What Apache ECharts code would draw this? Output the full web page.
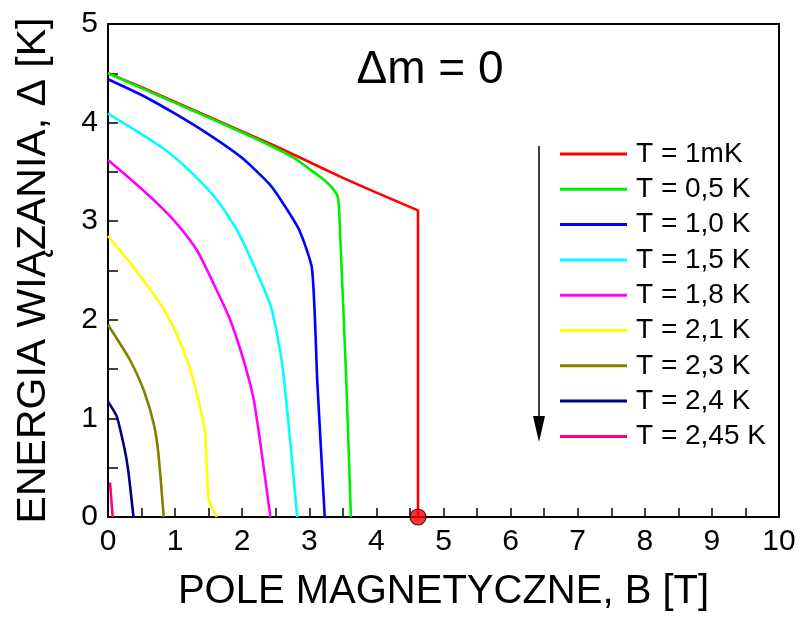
<!DOCTYPE html>
<html>
<head>
<meta charset="utf-8">
<script src="https://cdn.jsdelivr.net/npm/echarts@6/dist/echarts.min.js"></script>
<style>
html,body{margin:0;padding:0;background:#fff;}
#c{width:801px;height:619px;}
</style>
</head>
<body>
<div id="c"></div>
<script>
// ---- data ----
const seriesNames = ['T = 1mK','T = 0,5 K','T = 1,0 K','T = 1,5 K','T = 1,8 K','T = 2,1 K','T = 2,3 K','T = 2,4 K','T = 2,45 K'];
const seriesColors = ['#ff0000','#00ee00','#0000ff','#00ffff','#ff00ff','#ffff00','#808000','#000080','#ff0080'];

const x_1mK  = [0, 0.5, 1, 1.5, 2, 2.5, 3, 3.5, 4, 4.62, 4.62];
const y_1mK  = [4.50, 4.36, 4.21, 4.06, 3.91, 3.76, 3.60, 3.44, 3.29, 3.11, 0];
const x_05K  = [0, 0.5, 1, 1.5, 2, 2.5, 2.8, 3.0, 3.2, 3.35, 3.43, 3.47, 3.55, 3.62];
const y_05K  = [4.50, 4.35, 4.20, 4.05, 3.90, 3.74, 3.63, 3.53, 3.43, 3.33, 3.23, 2.70, 1.40, 0];
const x_10K  = [0, 0.5, 1.0, 1.5, 2.0, 2.4, 2.62, 2.85, 3.04, 3.12, 3.23];
const y_10K  = [4.44, 4.28, 4.09, 3.88, 3.64, 3.38, 3.17, 2.91, 2.52, 1.36, 0];
const x_15K  = [0, 0.48, 0.88, 1.28, 1.63, 1.93, 2.14, 2.43, 2.60, 2.82];
const y_15K  = [4.09, 3.89, 3.71, 3.47, 3.21, 2.90, 2.60, 2.13, 1.53, 0];
const x_18K  = [0, 0.43, 0.75, 1.03, 1.33, 1.62, 1.82, 2.02, 2.18, 2.42];
const y_18K  = [3.62, 3.37, 3.17, 2.97, 2.70, 2.30, 2.00, 1.59, 1.16, 0];
const x_21K  = [0, 0.18, 0.33, 0.55, 0.78, 1.02, 1.23, 1.44, 1.50, 1.62];
const y_21K  = [2.85, 2.70, 2.58, 2.38, 2.16, 1.86, 1.49, 0.89, 0.18, 0];
const x_23K  = [0, 0.15, 0.33, 0.53, 0.68, 0.75, 0.83];
const y_23K  = [1.95, 1.79, 1.59, 1.29, 0.95, 0.65, 0];
const x_24K  = [0, 0.13, 0.25, 0.30, 0.38];
const y_24K  = [1.17, 1.02, 0.68, 0.48, 0];
const x_245K = [0.03, 0.07];
const y_245K = [0.35, 0];

const criticalPointX = [4.62];
const criticalPointY = [0];

const xTicks = [0,1,2,3,4,5,6,7,8,9,10];
const yTicks = [0,1,2,3,4,5];

const titleText = 'Δm = 0';
const xTitle = 'POLE MAGNETYCZNE, B [T]';
const yTitle = 'ENERGIA WIĄZANIA, Δ [K]';

// ---- build ----
const allX = [x_1mK,x_05K,x_10K,x_15K,x_18K,x_21K,x_23K,x_24K,x_245K];
const allY = [y_1mK,y_05K,y_10K,y_15K,y_18K,y_21K,y_23K,y_24K,y_245K];
const zip = (a,b) => a.map((v,i)=>[v,b[i]]);

const FONT = '"Liberation Sans", Arial, sans-serif';

const series = seriesNames.map((n,i)=>({
  name: n,
  type: 'line',
  data: zip(allX[i], allY[i]),
  showSymbol: false,
  symbol: 'none',
  smooth: i === 0 ? false : 0.2,
  lineStyle: {color: seriesColors[i], width: 2.6},
  itemStyle: {color: seriesColors[i]},
  z: 2 + i
}));
series.push({
  type: 'scatter',
  data: zip(criticalPointX, criticalPointY),
  symbolSize: 16,
  itemStyle: {color: '#ff0000', borderColor: '#000', borderWidth: 1.2},
  clip: false,
  z: 20
});

const G = {left:108, top:24, width:671, height:493};

const option = {
  animation: false,
  backgroundColor: '#fff',
  textStyle: {fontFamily: FONT},
  grid: {left:G.left, top:G.top, width:G.width, height:G.height, containLabel:false},
  title: {
    text: titleText, left: 425, top: 42, textAlign: 'center',
    textStyle: {fontFamily: FONT, fontSize: 46, fontWeight: 'normal', color: '#000'}
  },
  legend: {
    data: seriesNames,
    orient: 'vertical',
    left: 560, top: 140,
    icon: 'rect',
    itemWidth: 67, itemHeight: 3,
    itemGap: 7.3,
    textStyle: {fontFamily: FONT, fontSize: 28, color: '#000', lineHeight: 28, padding: [0,0,0,4]},
    padding: 0,
    selectedMode: false
  },
  xAxis: [{
    type: 'value', min: 0, max: 10, interval: 1,
    position: 'bottom',
    name: xTitle, nameLocation: 'middle', nameGap: 55,
    nameTextStyle: {fontFamily: FONT, fontSize: 40, color: '#000'},
    axisLine: {show: true, onZero: false, lineStyle: {color: '#000', width: 2}},
    axisTick: {show: true, inside: true, length: 9, lineStyle: {color: '#000', width: 1.5}},
    minorTick: {show: true, splitNumber: 2, length: 9, lineStyle: {color: '#000', width: 1.5}},
    axisLabel: {fontFamily: FONT, fontSize: 30, color: '#000', margin: 10,
      formatter: v => xTicks.includes(v) ? String(v) : ''},
    splitLine: {show: false}
  },{
    type: 'value', min: 0, max: 10, position: 'top',
    axisLine: {show: true, onZero: false, lineStyle: {color: '#000', width: 2}},
    axisTick: {show: false}, axisLabel: {show: false}, splitLine: {show: false}
  }],
  yAxis: [{
    type: 'value', min: 0, max: 5, interval: 1,
    position: 'left',
    name: yTitle, nameLocation: 'middle', nameGap: 54, nameRotate: 90,
    nameTextStyle: {fontFamily: FONT, fontSize: 41, color: '#000'},
    axisLine: {show: true, onZero: false, lineStyle: {color: '#000', width: 2}},
    axisTick: {show: true, inside: true, length: 10, lineStyle: {color: '#000', width: 1.5}},
    minorTick: {show: true, splitNumber: 2, length: 10, lineStyle: {color: '#000', width: 1.5}},
    axisLabel: {fontFamily: FONT, fontSize: 30, color: '#000', margin: 10,
      formatter: v => yTicks.includes(v) ? String(v) : ''},
    splitLine: {show: false}
  },{
    type: 'value', min: 0, max: 5, position: 'right',
    axisLine: {show: true, onZero: false, lineStyle: {color: '#000', width: 2}},
    axisTick: {show: false}, axisLabel: {show: false}, splitLine: {show: false}
  }],
  graphic: [
    {type: 'line', shape: {x1: 539, y1: 146, x2: 539, y2: 420}, style: {stroke: '#000', lineWidth: 1.5}, z: 50},
    {type: 'polygon', shape: {points: [[533,416],[545,416],[539,442]]}, style: {fill: '#000'}, z: 50}
  ],
  series: series
};

const chart = echarts.init(document.getElementById('c'), null, {renderer: 'canvas'});
chart.setOption(option);
</script>
</body>
</html>
